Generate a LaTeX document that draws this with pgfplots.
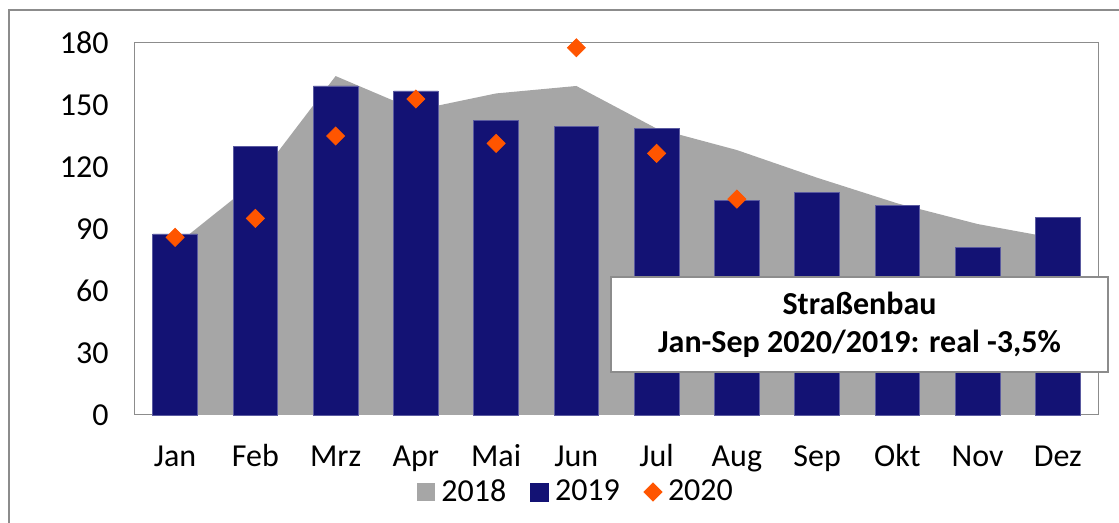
\documentclass[border=0pt]{standalone}
\usepackage{fontspec}
\setmainfont{Carlito}
\usepackage{pgfplots}
\pgfplotsset{compat=1.18}
\definecolor{g18}{HTML}{A6A6A6}
\definecolor{b19}{HTML}{131274}
\definecolor{o20}{HTML}{FF5500}
\definecolor{frame}{HTML}{8C8C8C}
\newcommand{\lblfont}{\fontsize{16}{19}\selectfont}

\begin{document}
\begin{tikzpicture}
% 1 px of the reference = 0.5pt, axis box lower left at px (135,415)
\path[use as bounding box] (-67.5pt,-54pt) rectangle (492pt,207.5pt);
\draw[frame, line width=0.6pt] (-63pt,-54pt) -- (-63pt,202.5pt) -- (492pt,202.5pt);
\begin{axis}[
    at={(0pt,0pt)}, anchor=south west,
    scale only axis,
    width=481.5pt, height=186pt,
    xmin=0.5, xmax=12.5, ymin=0, ymax=180,
    xtick={1,...,12},
    xticklabels={Jan,Feb,Mrz,Apr,Mai,Jun,Jul,Aug,Sep,Okt,Nov,Dez},
    ytick={0,30,...,180},
    major tick length=0pt,
    clip=false,
    axis line style={draw=frame, line width=0.5pt},
    tick label style={font=\lblfont},
    /pgf/number format/assume math mode=true,
    xticklabel style={anchor=base, yshift=-25.8pt},
    yticklabel style={anchor=east, xshift=-9.7pt},
    legend columns=3,
    legend style={at={(rel axis cs:0.2928,-0.207)}, anchor=west,
        draw=none, fill=none, inner sep=0pt, font=\lblfont,
        nodes={inner sep=1.5pt},
        /tikz/every odd column/.append style={column sep=1.5pt},
        /tikz/every even column/.append style={column sep=10.5pt}},
]
\addplot[fill=g18, draw=none,
    legend image code/.code={\fill[g18] (0pt,-4.5pt) rectangle (9pt,4.5pt);}]
    coordinates {
    (1,82) (2,113) (3,164) (4,147.5) (5,155.6) (6,159.2)
    (7,138.6) (8,128.2) (9,114.8) (10,102.4) (11,92.4) (12,85.3)
    } \closedcycle;
\addlegendentry{2018}
\addplot[ybar, bar width=22.3pt, bar shift=0pt, fill=b19,
    draw={rgb,255:red,90;green,90;blue,160}, line width=0.4pt,
    legend image code/.code={\fill[b19] (0pt,-4.5pt) rectangle (9pt,4.5pt);}]
    coordinates {
    (1,87.6) (2,129.8) (3,159.2) (4,156.8) (5,142.7) (6,139.5)
    (7,138.7) (8,103.9) (9,107.9) (10,101.6) (11,80.9) (12,95.6)
    };
\addlegendentry{2019}
\addplot[only marks, mark=square*, mark size=3.2pt,
    mark options={rotate=45, fill=o20, draw=o20}, color=o20,
    legend image code/.code={\draw[o20, fill=o20] plot[mark=square*, mark size=3.2pt, mark options={rotate=45}] coordinates {(4.5pt,0pt)};}]
    coordinates {
    (1,86.0) (2,95.1) (3,135.0) (4,152.9) (5,131.4) (6,177.7)
    (7,126.6) (8,104.5)
    };
\addlegendentry{2020}
\end{axis}
\node[draw=frame, line width=0.6pt, fill=white, minimum width=248.5pt,
      minimum height=47.5pt, align=center, inner sep=0pt,
      font=\bfseries\lblfont] at (362.25pt,45.25pt)
      {Straßenbau\\[0pt]Jan-Sep 2020/2019: real -3,5\%};
\end{tikzpicture}
\end{document}
